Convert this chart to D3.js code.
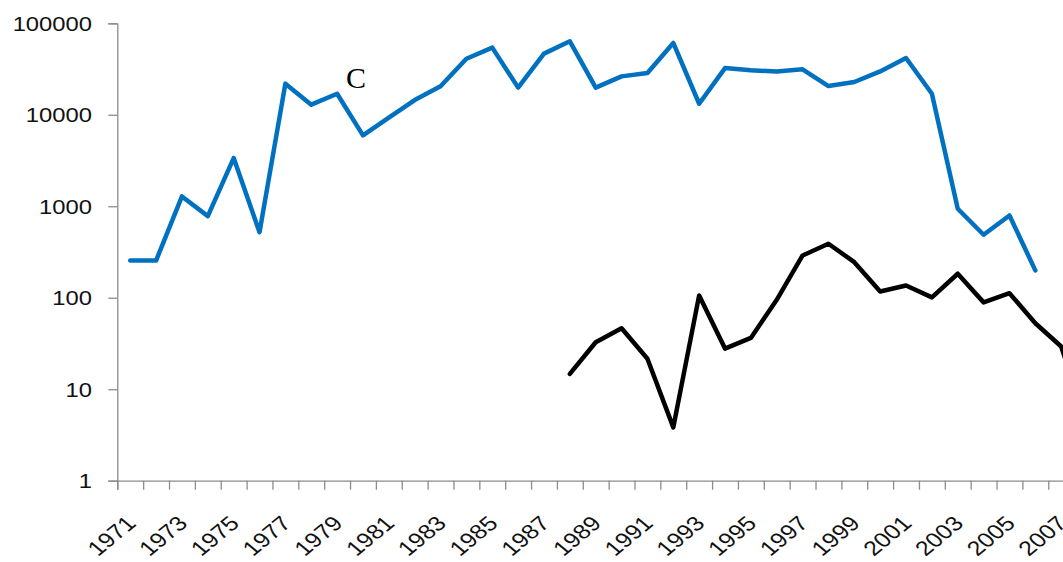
<!DOCTYPE html>
<html>
<head>
<meta charset="utf-8">
<script src="https://cdn.jsdelivr.net/npm/d3@7"></script>
<style>
  html, body { margin: 0; padding: 0; background: #fff; overflow: hidden; }
  svg { display: block; }
</style>
</head>
<body>
<svg id="chart" width="1063" height="562"></svg>
<script>
// ---- data ----
const years = d3.range(1971, 2011); // categories (axis continues past the frame)
const blueYears = d3.range(1971, 2007);
const blueValues = [255, 255, 1280, 780, 3360, 521, 21900, 12900, 17000, 5950,
  9300, 14500, 20500, 41000, 54200, 19800, 46600, 63500, 19800, 26300,
  28600, 61000, 13200, 32400, 30600, 29800, 31400, 20600, 22800, 29800,
  41800, 17000, 940, 488, 793, 199];
const blackYears = d3.range(1988, 2009);
const blackValues = [14.7, 32.6, 46.4, 21.5, 3.83, 106, 27.8, 36.4, 95, 290,
  389, 245, 117, 136, 101, 183, 89, 112, 52.6, 29.3, 4];
const yTicks = [1, 10, 100, 1000, 10000, 100000];
const xLabelYears = d3.range(1971, 2008, 2);
const annotation = "C";

// ---- layout ----
const svg = d3.select("#chart");
const left = 117.3, step = 25.86;
const x = d3.scaleLinear()
  .domain([1970.5, 1970.5 + years.length])
  .range([left, left + step * years.length]);
const y = d3.scaleLog().domain([1, 100000]).range([480.7, 23.3]);
const axisColor = "#8c8c8c";
const sx = 1.22;

// y axis
const yAxis = svg.append("g").attr("transform", `translate(${left},0)`)
  .call(d3.axisLeft(y).tickValues(yTicks).tickSize(9).tickFormat(d3.format("d")));
yAxis.select(".domain").attr("stroke", axisColor).attr("stroke-width", 1.3);
yAxis.selectAll(".tick line").attr("stroke", axisColor).attr("stroke-width", 1.3);
yAxis.selectAll(".tick text")
  .attr("x", -25.3 / sx).attr("dy", "0.36em")
  .attr("transform", `scale(${sx},1)`)
  .attr("fill", "#111")
  .style("font-family", "'Liberation Sans', Arial, sans-serif")
  .style("font-size", "19.5px");

// x axis (ticks between categories)
const bounds = d3.range(0, years.length + 1).map(i => 1970.5 + i);
const xAxis = svg.append("g").attr("transform", `translate(0,${y(1)})`)
  .call(d3.axisBottom(x).tickValues(bounds).tickSize(9).tickFormat(""));
xAxis.select(".domain").attr("stroke", axisColor).attr("stroke-width", 1.3);
xAxis.selectAll(".tick line").attr("stroke", axisColor).attr("stroke-width", 1.3);

// x labels
const xl = svg.append("g");
xLabelYears.forEach(yr => {
  xl.append("text")
    .attr("transform", `translate(${x(yr) + 7},${y(1) + 44}) scale(${sx},1) rotate(-45)`)
    .attr("text-anchor", "end")
    .attr("fill", "#111")
    .style("font-family", "'Liberation Sans', Arial, sans-serif")
    .style("font-size", "20.5px")
    .text(yr);
});

// lines
const line = d3.line().x(d => x(d[0])).y(d => y(d[1]));
svg.append("path")
  .datum(blueYears.map((yr, i) => [yr, blueValues[i]]))
  .attr("d", line).attr("fill", "none")
  .attr("stroke", "#0070C0").attr("stroke-width", 4.5)
  .attr("stroke-linejoin", "round").attr("stroke-linecap", "round");
svg.append("path")
  .datum(blackYears.map((yr, i) => [yr, blackValues[i]]))
  .attr("d", line).attr("fill", "none")
  .attr("stroke", "#000").attr("stroke-width", 4.5)
  .attr("stroke-linejoin", "round").attr("stroke-linecap", "round");

// annotation
svg.append("text")
  .attr("x", 346).attr("y", 88)
  .style("font-family", "'Liberation Serif', 'Times New Roman', serif")
  .style("font-size", "30px")
  .attr("fill", "#000")
  .text(annotation);
</script>
</body>
</html>
